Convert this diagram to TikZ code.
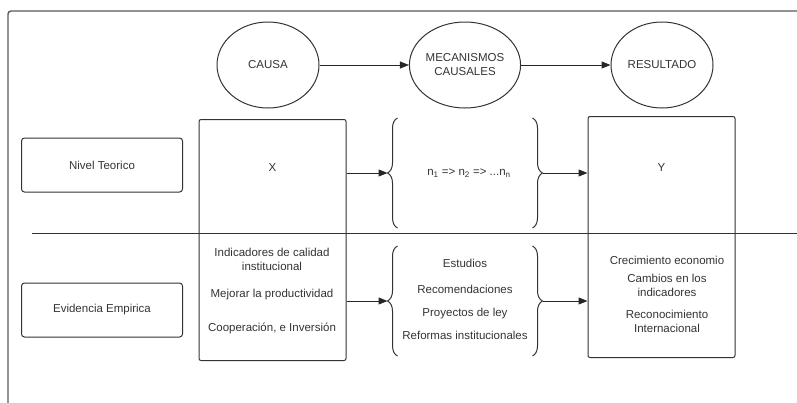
\documentclass[tikz,border=0pt]{standalone}
\usepackage{fontspec}
\setmainfont{Liberation Sans}
\usepackage{tikz}
\usetikzlibrary{shapes.geometric, arrows.meta, decorations.pathreplacing}
\tikzstyle{levelbox} = [rectangle, rounded corners=3pt, minimum width=161pt, minimum height=54pt, text centered, draw=black!80]
\tikzstyle{bigbox} = [rectangle, rounded corners=2pt, minimum width=147pt, minimum height=241pt, draw=black!80]
\tikzstyle{bubble} = [ellipse, minimum width=102pt, minimum height=86pt, align=center, inner sep=0pt, draw=black!80]
\tikzstyle{mecbox} = [rectangle, minimum width=154pt, minimum height=109pt, inner sep=0pt]
\tikzstyle{lines} = [align=center, inner sep=0pt, anchor=north]
\tikzstyle{bracer} = [draw=black!80, decorate, decoration={brace, amplitude=10pt}]
\tikzstyle{arrow} = [black!85, -{Triangle[length=9pt,width=7pt]}]

\begin{document}
\begin{tikzpicture}[x=1pt, y=-1pt, node distance=197pt, line width=1pt, font=\fontsize{11.5}{14}\selectfont, text=black!80]
        \useasboundingbox (0,0) rectangle (797,402);
        \clip (0,0) rectangle (797,402);
        % frame and separator
        \draw[black!65, line width=1.4pt, rounded corners=3pt] (8,410) -- (8,11) -- (810,11);
        \coordinate (sepl) at (32,233);
        \coordinate (sepr) at (805,233);
        \draw[black!80] (sepl) -- (sepr);

        \node (cause) [bubble] at (268,65) {CAUSA};
        \node (mec) [bubble, right of=cause] {MECANISMOS\\CAUSALES};
        \node (res) [bubble, right of=mec] {RESULTADO};

        \node (teo) [levelbox] at (102,165) {Nivel Teorico};
        \node (emp) [levelbox] at (102,310) {Evidencia Empirica};

        \node (xbox) [bigbox] at (272.5,240) {};
        \node (ybox) [bigbox] at (661.5,237) {};
        \node (xt) at (272.5,168) {X};
        \node (yt) at (661.5,168) {Y};

        \node (mt) [mecbox] at (465,173) {\hspace{8pt}n\textsubscript{1} => n\textsubscript{2} => ...n\textsubscript{n}};
        \node (me) [mecbox] at (465,301) {};

        \node (xev) [lines] at (272,247.6) {Indicadores de calidad\\institucional\\[13pt]Mejorar la productividad\\[20pt]Cooperación, e Inversión};
        \node (mev) [lines] at (465,258.6) {Estudios\\[12pt]Recomendaciones\\[9pt]Proyectos de ley\\[9pt]Reformas institucionales};
        \node (yev) [lines] at (667,255.6) {Crecimiento economio\\[4pt]Cambios en los\\indicadores\\[8pt]Reconocimiento\\Internacional};

        % braces round the mechanisms
        \draw[bracer] ([xshift=10pt]mt.south west) -- ([xshift=10pt]mt.north west);
        \draw[bracer] ([xshift=-10pt]mt.north east) -- ([xshift=-10pt]mt.south east);
        \draw[bracer] ([xshift=10pt]me.south west) -- ([xshift=10pt]me.north west);
        \draw[bracer] ([xshift=-10pt]me.north east) -- ([xshift=-10pt]me.south east);

        \draw [arrow] (cause) -- (mec);
        \draw [arrow] (mec) -- (res);
        \draw [arrow] (xbox.east |- mt.west) -- (mt.west);
        \draw [arrow] (mt.east) -- (ybox.west |- mt.east);
        \draw [arrow] (xbox.east |- me.west) -- (me.west);
        \draw [arrow] (me.east) -- (ybox.west |- me.east);
    \end{tikzpicture}
\end{document}
